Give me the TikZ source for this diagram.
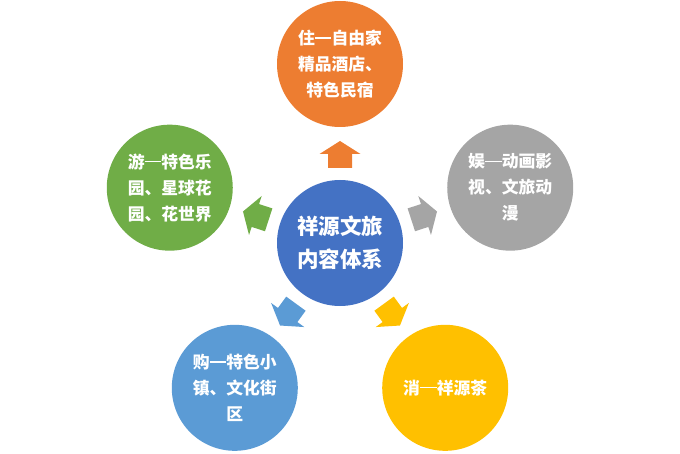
\documentclass[tikz,border=0pt]{standalone}
\usepackage{fontspec}
\usetikzlibrary{calc}
\newfontfamily\cjk{Noto Sans CJK SC}
\newcommand{\fdash}{\makebox[1em]{\rule[0.34em]{0.98em}{0.09em}}}
\definecolor{cBlue}{HTML}{4472C4}
\definecolor{cOrange}{HTML}{ED7D31}
\definecolor{cGray}{HTML}{A5A5A5}
\definecolor{cYellow}{HTML}{FFC000}
\definecolor{cLBlue}{HTML}{5B9BD5}
\definecolor{cGreen}{HTML}{70AD47}
\tikzset{
  bubble/.style={circle, minimum size=126pt, inner sep=0pt, text=white, align=center,
    font=\cjk\bfseries\fontsize{16.8}{26}\selectfont},
  hub/.style={bubble, font=\cjk\bfseries\fontsize{21.5}{33}\selectfont},
}
\newcommand{\blockarrow}[3]{% angle, colour, name
  \begin{scope}[shift={(ctr)}, rotate=#1]
    \fill[#2] (75,-12) -- (89,-12) -- (89,-20.5) -- (102,0) -- (89,20.5) -- (89,12) -- (75,12) -- cycle;
    \coordinate (#3) at (88,0);
  \end{scope}}
\begin{document}
\begin{tikzpicture}[x=1pt,y=1pt]
\useasboundingbox (0,0) rectangle (680,453);
\coordinate (ctr) at (340,210);
\node[hub, fill=cBlue] (hubnode) at (ctr) {祥源文旅\\内容体系};
\node[bubble, fill=cOrange] (zhu) at ($(ctr)+(90:179)$) {住\fdash 自由家\\精品酒店、\\特色民宿};
\node[bubble, fill=cGray] (yu) at ($(ctr)+(18:179)$) {娱\fdash 动画影\\视、文旅动\\漫};
\node[bubble, fill=cYellow] (xiao) at ($(ctr)+(-54:179)$) {消\fdash 祥源茶};
\node[bubble, fill=cLBlue] (gou) at ($(ctr)+(-126:179)$) {购\fdash 特色小\\镇、文化街\\区};
\node[bubble, fill=cGreen] (you) at ($(ctr)+(162:179)$) {游\fdash 特色乐\\园、星球花\\园、花世界};
\blockarrow{90}{cOrange}{a1}
\blockarrow{18}{cGray}{a2}
\blockarrow{-54}{cYellow}{a3}
\blockarrow{-126}{cLBlue}{a4}
\blockarrow{162}{cGreen}{a5}
\end{tikzpicture}
\end{document}
